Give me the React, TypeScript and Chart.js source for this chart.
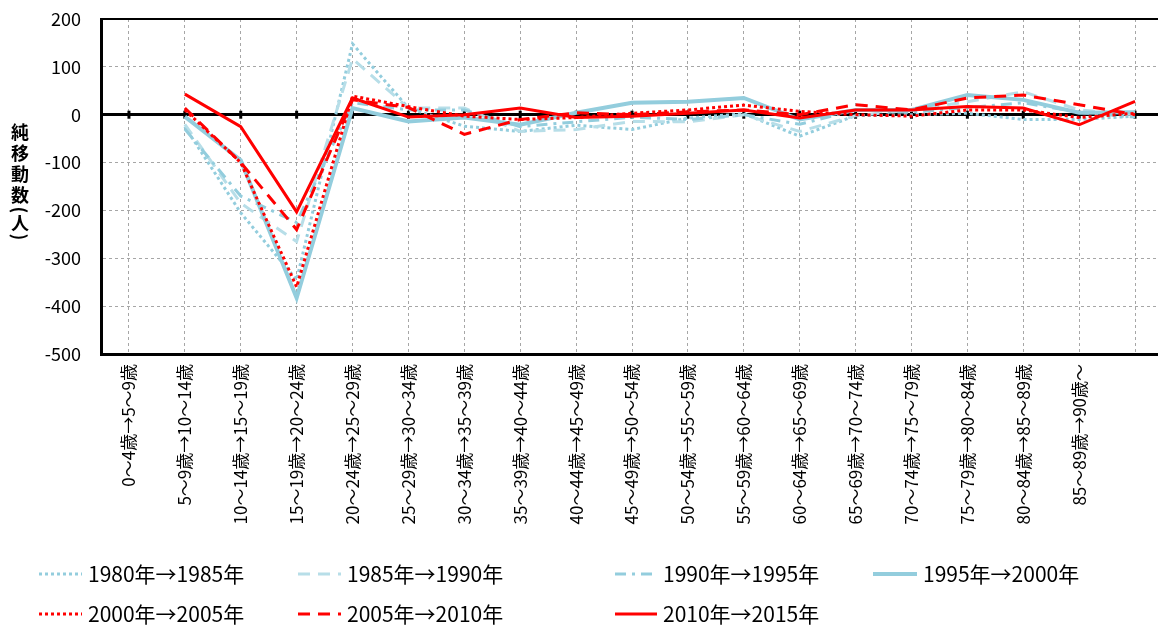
import { useEffect, useRef } from "react";
import { Chart, registerables } from "chart.js";

Chart.register(...registerables);

const categories = [
  "0～4歳→5～9歳",
  "5～9歳→10～14歳",
  "10～14歳→15～19歳",
  "15～19歳→20～24歳",
  "20～24歳→25～29歳",
  "25～29歳→30～34歳",
  "30～34歳→35～39歳",
  "35～39歳→40～44歳",
  "40～44歳→45～49歳",
  "45～49歳→50～54歳",
  "50～54歳→55～59歳",
  "55～59歳→60～64歳",
  "60～64歳→65～69歳",
  "65～69歳→70～74歳",
  "70～74歳→75～79歳",
  "75～79歳→80～84歳",
  "80～84歳→85～89歳",
  "85～89歳→90歳～",
  "",
];

const seriesLabels = [
  "1980年→1985年",
  "1985年→1990年",
  "1990年→1995年",
  "1995年→2000年",
  "2000年→2005年",
  "2005年→2010年",
  "2010年→2015年",
];

const s1980 = [null, -25, -205, -345, 148, 14, -24, -35, -22, -31, -7, 2, -45, -2, 0, 3, -10, -10, -3];
const s1985 = [null, -20, -185, -265, 117, 14, 14, -35, -31, -14, -15, 0, -35, -2, 10, 27, 48, 10, 0];
const s1990 = [null, -30, -170, -225, 25, 10, 10, -25, -15, -5, -10, 0, -20, 10, 5, 15, 25, 5, -5];
const s1995 = [null, -4, -95, -383, 14, -14, -6, -21, 4, 25, 27, 35, -10, 10, 10, 41, 31, 4, 5];
const s2000 = [null, 10, -100, -360, 39, 17, -3, -10, -6, 3, 10, 20, 7, 0, -3, 10, 10, -6, 3];
const s2005 = [null, 14, -100, -240, 31, 15, -41, -10, 4, 0, 6, 10, 0, 21, 10, 35, 41, 21, 0];
const s2010 = [null, 43, -25, -203, 35, -5, 0, 14, -6, -3, 3, 10, -7, 10, 10, 17, 14, -21, 28];
const zeroLine = categories.map(() => 0);

const yMin = -500;
const yMax = 200;
const yStep = 100;
const yTitleChars = ["純", "移", "動", "数", "(", "人", ")"];

const FONT = '"Noto Sans CJK JP", "Noto Sans", sans-serif';

const LEG_LINE_X = [39, 298, 615, 873];
const LEG_TEXT_X = [88, 347, 663, 923];
const LEG_ROW_Y = [574, 614];
const TITLE_Y = [132, 153, 174, 195, 210, 223, 237];

const overlayPlugin = {
  id: "overlay",
  afterDraw(chart: any) {
    const ctx = chart.ctx;
    ctx.save();
    // legend
    const items = chart.data.datasets.filter((d: any) => d.label);
    items.forEach((ds: any, i: number) => {
      const col = i % 4;
      const row = Math.floor(i / 4);
      const x0 = LEG_LINE_X[col];
      const tx = LEG_TEXT_X[col];
      const y = LEG_ROW_Y[row];
      ctx.beginPath();
      ctx.setLineDash(ds.borderDash || []);
      ctx.lineWidth = ds.borderWidth;
      ctx.strokeStyle = ds.borderColor;
      ctx.lineCap = "butt";
      ctx.moveTo(x0, y);
      ctx.lineTo(tx - 6, y);
      ctx.stroke();
      ctx.setLineDash([]);
      ctx.fillStyle = "#000";
      ctx.font = `21px ${FONT}`;
      ctx.textBaseline = "middle";
      ctx.textAlign = "left";
      ctx.fillText(ds.label, tx, y);
    });
    // y axis title (vertical)
    ctx.font = `bold 18px ${FONT}`;
    ctx.textAlign = "center";
    ctx.textBaseline = "middle";
    ctx.fillStyle = "#000";
    yTitleChars.forEach((c, i) => {
      if (c === "(" || c === ")") {
        ctx.save();
        ctx.translate(20, TITLE_Y[i]);
        ctx.rotate(Math.PI / 2);
        ctx.fillText(c, 0, 0);
        ctx.restore();
      } else {
        ctx.fillText(c, 20, TITLE_Y[i]);
      }
    });
    ctx.restore();
  },
};

const LB = "#93CDDD";
const LB2 = "#B7DEE8";
const RED = "#FF0000";

export default function App() {
  const ref = useRef<HTMLCanvasElement | null>(null);
  useEffect(() => {
    document.body.style.margin = "0";
    document.body.style.overflow = "hidden";
    document.documentElement.style.overflow = "hidden";
    const canvas = ref.current!;
    const mk = (label: string, data: any[], color: string, width: number, dash: number[], order: number) => ({
      label,
      data,
      borderColor: color,
      backgroundColor: color,
      borderWidth: width,
      borderDash: dash,
      pointRadius: 0,
      tension: 0,
      fill: false,
      order,
    });
    const chart = new Chart(canvas, {
      type: "line",
      data: {
        labels: categories,
        datasets: [
          mk(seriesLabels[0], s1980, LB, 3, [3, 3], 7),
          mk(seriesLabels[1], s1985, LB2, 3, [12, 8], 6),
          mk(seriesLabels[2], s1990, LB, 3, [11, 6, 3, 6], 5),
          mk(seriesLabels[3], s1995, LB, 4, [], 4),
          mk(seriesLabels[4], s2000, RED, 3, [3, 3], 3),
          mk(seriesLabels[5], s2005, RED, 3, [12, 8], 2),
          mk(seriesLabels[6], s2010, RED, 3, [], 1),
          {
            label: "",
            data: zeroLine,
            showLine: false,
            borderColor: "#000",
            backgroundColor: "#000",
            pointStyle: "line",
            pointRotation: 90,
            pointRadius: 4,
            pointBorderWidth: 3,
            order: 20,
          } as any,
        ],
      },
      options: {
        responsive: false,
        animation: false,
        devicePixelRatio: 1,
        layout: { padding: { top: 19, left: 0, right: 0, bottom: 0 } },
        plugins: { legend: { display: false }, tooltip: { enabled: false } },
        scales: {
          x: {
            offset: true,
            grid: {
              offset: false,
              color: "#A6A6A6",
              lineWidth: 1,
              drawTicks: false,
            },
            border: { display: true, color: "#000", width: 3, dash: [3, 3] },
            ticks: {
              autoSkip: false,
              maxRotation: 90,
              minRotation: 90,
              padding: 10,
              color: "#000",
              font: { size: 17, family: FONT },
            },
            afterFit: (s: any) => {
              s.height = 272;
              s.paddingLeft = 0;
              s.paddingRight = 0;
              s.paddingTop = 0;
              s.paddingBottom = 0;
            },
          },
          y: {
            min: yMin,
            max: yMax,
            ticks: {
              stepSize: yStep,
              padding: 20,
              color: "#000",
              font: { size: 18, family: FONT },
            },
            grid: {
              drawTicks: false,
              color: (c: any) => (c.tick && (c.tick.value === 0 || c.tick.value === yMax) ? "#000" : "#A6A6A6"),
              lineWidth: (c: any) => (c.tick && c.tick.value === 0 ? 3 : c.tick && c.tick.value === yMax ? 2 : 1),
            },
            border: {
              display: true,
              color: "#000",
              width: 3,
              dash: (c: any) => (c.tick && (c.tick.value === 0 || c.tick.value === yMax) ? [] : [3, 3]),
            } as any,
            afterFit: (s: any) => {
              s.width = 101;
              s.paddingTop = 0;
              s.paddingBottom = 0;
            },
          },
        },
      },
      plugins: [overlayPlugin],
    } as any);
    return () => chart.destroy();
  }, []);
  return (
    <div style={{ width: 1158, height: 626, overflow: "hidden" }}>
      <canvas ref={ref} width={1170} height={626} style={{ display: "block" }} />
    </div>
  );
}
